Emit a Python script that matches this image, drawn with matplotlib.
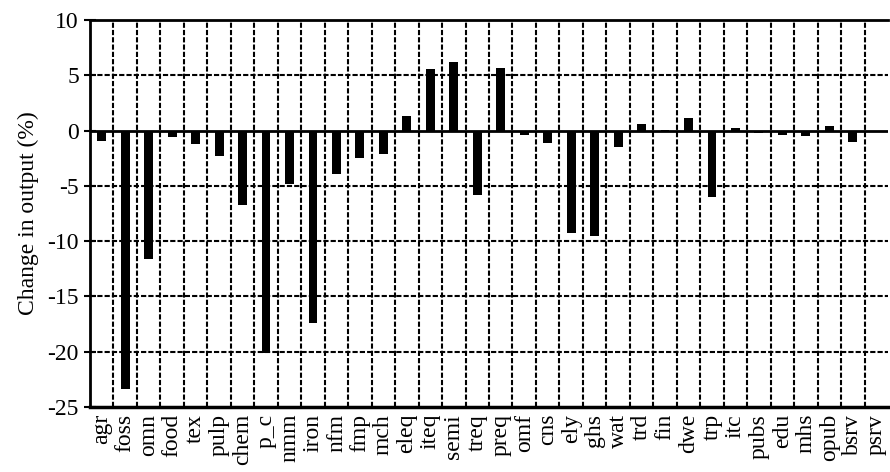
import numpy as np
import matplotlib
matplotlib.use("Agg")
import matplotlib.pyplot as plt

# sectores y cambio en producción (%)
sectores = ["agr", "foss", "omn", "food", "tex", "pulp", "chem", "p_c", "nmm",
            "iron", "nfm", "fmp", "mch", "eleq", "iteq", "semi", "treq", "preq",
            "omf", "cns", "ely", "ghs", "wat", "trd", "fin", "dwe", "trp", "itc",
            "pubs", "edu", "mhs", "opub", "bsrv", "psrv"]
cambio = [-0.9, -23.4, -11.6, -0.6, -1.2, -2.3, -6.7, -20.1, -4.8,
          -17.4, -3.9, -2.5, -2.1, 1.3, 5.6, 6.2, -5.8, 5.7,
          -0.4, -1.1, -9.3, -9.5, -1.5, 0.6, 0.05, 1.1, -6.0, 0.2,
          -0.2, -0.4, -0.5, 0.4, -1.0, -0.05]
y_ticks = [10, 5, 0, -5, -10, -15, -20, -25]

plt.rcParams["font.family"] = ["Liberation Serif", "DejaVu Serif"]
plt.rcParams["axes.unicode_minus"] = False

fig = plt.figure(figsize=(8.9, 4.72), dpi=100)
ax = fig.add_axes([90 / 890, 1 - 407 / 472, 798 / 890, 387 / 472])

x = np.arange(len(sectores))
ax.bar(x, cambio, width=0.38, color="black", zorder=3)

ax.set_xlim(-0.5, len(sectores) - 0.5)
ax.set_ylim(-25, 10)
ax.set_yticks(y_ticks)
ax.set_xticks(x)
ax.set_xticklabels(sectores, rotation=90, fontsize=17)
ax.tick_params(axis="y", labelsize=17, direction="inout", length=8, width=1.5, pad=4)
ax.tick_params(axis="x", length=0, pad=5)

# rejilla punteada
for yv in y_ticks:
    if yv not in (0, 10, -25):
        ax.axhline(yv, color="black", lw=1.5, ls=(0, (2.5, 1)), zorder=1)
for xv in np.arange(0.5, len(sectores) - 0.5, 1):
    ax.axvline(xv, color="black", lw=1.5, ls=(0, (2.5, 1)), zorder=1)
ax.axhline(0, color="black", lw=2, zorder=4)

ax.spines["left"].set_linewidth(2)
ax.spines["bottom"].set_linewidth(2.5)
ax.spines["top"].set_linewidth(2)
ax.spines["right"].set_visible(False)

ax.set_ylabel("Change in output (%)", fontsize=17, labelpad=6)

fig.savefig("out.png", dpi=100)
